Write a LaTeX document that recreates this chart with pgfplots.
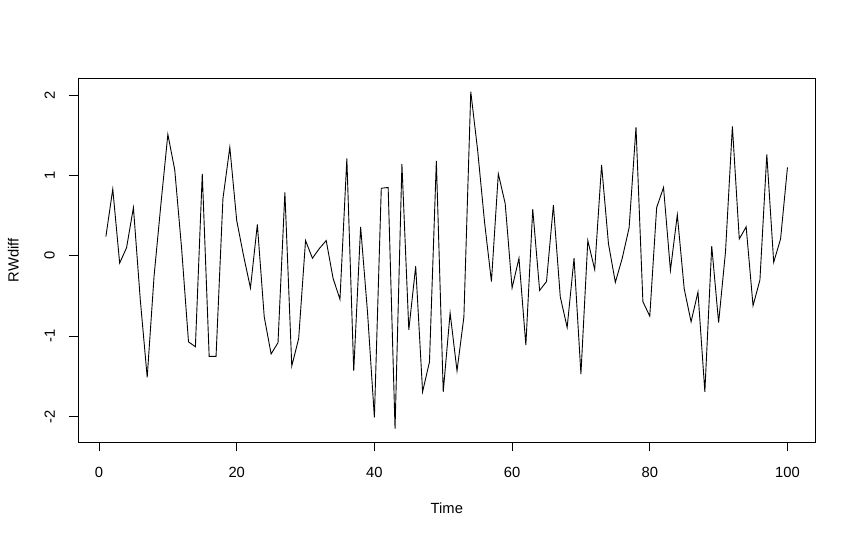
\documentclass[border=0pt]{standalone}
\usepackage{fontspec}
\setmainfont{Liberation Sans}
\usepackage{pgfplots}
\pgfplotsset{compat=1.18}
\newcommand\rfont{\fontsize{14.8}{17}\selectfont}

\pgfplotstableread{
t y
1 0.24
2 0.83
3 -0.09
4 0.10
5 0.60
6 -0.55
7 -1.51
8 -0.25
9 0.65
10 1.51
11 1.07
12 0.09
13 -1.07
14 -1.13
15 1.02
16 -1.25
17 -1.25
18 0.71
19 1.35
20 0.44
21 0.00
22 -0.40
23 0.39
24 -0.76
25 -1.22
26 -1.08
27 0.79
28 -1.37
29 -1.03
30 0.19
31 -0.03
32 0.09
33 0.19
34 -0.28
35 -0.54
36 1.21
37 -1.43
38 0.36
39 -0.70
40 -2.01
41 0.84
42 0.85
43 -2.15
44 1.14
45 -0.92
46 -0.13
47 -1.69
48 -1.32
49 1.18
50 -1.69
51 -0.71
52 -1.43
53 -0.76
54 2.04
55 1.31
56 0.42
57 -0.32
58 1.02
59 0.65
60 -0.40
61 -0.03
62 -1.11
63 0.58
64 -0.43
65 -0.32
66 0.63
67 -0.51
68 -0.89
69 -0.03
70 -1.47
71 0.19
72 -0.17
73 1.13
74 0.15
75 -0.33
76 -0.03
77 0.35
78 1.60
79 -0.57
80 -0.75
81 0.60
82 0.85
83 -0.18
84 0.51
85 -0.41
86 -0.82
87 -0.45
88 -1.69
89 0.12
90 -0.83
91 0.05
92 1.61
93 0.21
94 0.36
95 -0.62
96 -0.30
97 1.26
98 -0.08
99 0.21
100 1.10
}\rwdiff

\begin{document}
\begin{tikzpicture}
\useasboundingbox (-78.7bp,-98bp) rectangle (776.3bp,442bp);
\begin{axis}[
    at={(0,0)}, anchor=south west,
    scale only axis,
    width=736.3bp, height=363.5bp,
    xmin=-2.95, xmax=104,
    ymin=-2.315, ymax=2.205,
    xtick={0,20,...,100},
    ytick={-2,-1,0,1,2},
    xtick pos=bottom, ytick pos=left,
    tick align=outside,
    major tick length=9.3bp,
    tick style={black, line width=0.8bp},
    axis line style={black, line width=0.8bp},
    /pgf/number format/assume math mode=true,
    tick label style={font=\rfont},
    xticklabel style={inner sep=0pt, anchor=north},
    yticklabel style={inner sep=0pt, rotate=90, anchor=south},
    xticklabel shift=15.3bp,
    yticklabel shift=14.4bp,
    xlabel={Time}, ylabel={RWdiff},
    label style={font=\rfont},
    xlabel style={at={(axis description cs:0.5,-0.1816)}, anchor=center},
    ylabel style={at={(axis description cs:-0.0888,0.5)}, anchor=center},
]
\addplot[black, line width=0.9bp, no markers] table[x=t, y=y] {\rwdiff};
\end{axis}
\end{tikzpicture}
\end{document}
